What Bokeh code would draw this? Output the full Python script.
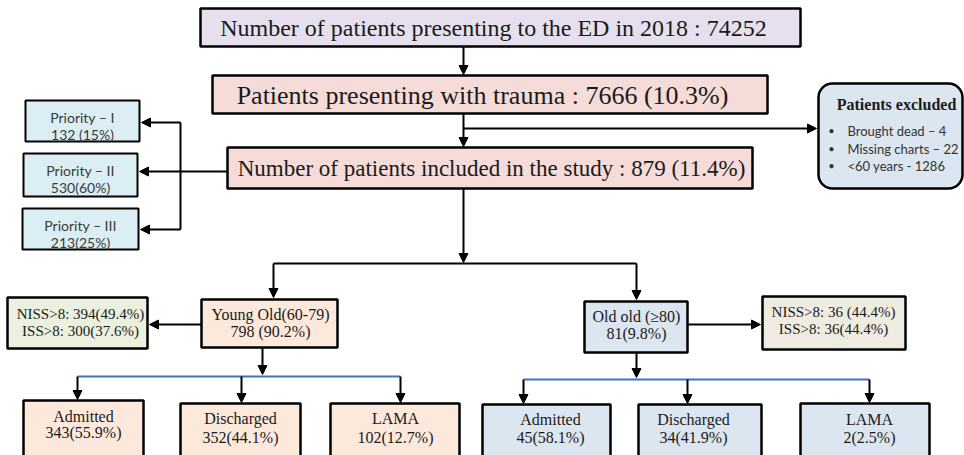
from bokeh.plotting import figure
from bokeh.models import ColumnDataSource, Arrow, NormalHead, BoxAnnotation, Range1d
from bokeh.core.properties import value
from bokeh.embed import file_html
from bokeh.resources import INLINE

# ---------------- data (labels / values) ----------------
top_text = "Number of patients presenting to the ED in 2018 : 74252"
trauma_text = "Patients presenting with trauma : 7666 (10.3%)"
included_text = "Number of patients included in the study : 879 (11.4%)"
priority_labels = ["Priority \u2013 I", "Priority \u2013 II", "Priority \u2013 III"]
priority_values = ["132 (15%)", "530(60%)", "213(25%)"]
excluded_title = "Patients excluded"
excluded_items = ["Brought dead \u2013 4", "Missing charts \u2013 22", "<60 years - 1286"]
group_labels = ["Young Old(60-79)", "Old old (\u226580)"]
group_values = ["798 (90.2%)", "81(9.8%)"]
niss_young = ["NISS>8: 394(49.4%)", "ISS>8: 300(37.6%)"]
niss_old = ["NISS>8: 36 (44.4%)", "ISS>8: 36(44.4%)"]
outcome_labels = ["Admitted", "Discharged", "LAMA"]
young_outcomes = ["343(55.9%)", "352(44.1%)", "102(12.7%)"]
old_outcomes = ["45(58.1%)", "34(41.9%)", "2(2.5%)"]

# ---------------- layout (pixel-like coordinates) ----------------
SERIF = "Liberation Serif"
SANS = "Lato"

p = figure(width=964, height=455, x_range=Range1d(0, 964), y_range=Range1d(455, 0),
           output_backend="svg", toolbar_location=None, min_border=0,
           x_axis_location=None, y_axis_location=None)
p.grid.visible = False
p.outline_line_color = None
p.background_fill_color = "white"


def box(l, r, t, b, fill, lw=2.5):
    p.quad(left=[l], right=[r], top=[t], bottom=[b], fill_color=fill,
           line_color="black", line_width=lw)


def txt(x, y, s, size, font=SERIF, color="#1a1a1a", align="center", style="normal"):
    p.text(x=[x], y=[y], text=[s], text_font=value(font), text_font_size=f"{size}px",
           text_align=align, text_baseline="middle", text_color=color, text_font_style=style)


# connector lines (no heads)
p.multi_line(xs=[[180, 180], [273, 636], [227, 180]], ys=[[122, 229], [263, 263], [171, 171]],
             line_color="black", line_width=2)
p.multi_line(xs=[[77, 400], [523, 869]], ys=[[376, 376], [379, 379]],
             line_color="#4472c4", line_width=2)

# arrows
arr = ColumnDataSource(dict(
    x0=[463, 463, 463, 180, 180, 180, 463, 273, 636, 201, 687, 262, 77, 241, 400, 636, 523, 687, 869],
    y0=[46, 113, 128, 122, 171, 229, 188, 263, 263, 324, 324, 347, 376, 376, 376, 352, 379, 379, 379],
    x1=[463, 463, 816, 141, 139, 140, 463, 273, 636, 149, 760, 262, 77, 241, 400, 636, 523, 687, 869],
    y1=[74, 146, 128, 122, 171, 229, 262, 297, 299, 324, 324, 374, 399, 402, 402, 377, 403, 403, 402],
))
p.add_layout(Arrow(x_start="x0", y_start="y0", x_end="x1", y_end="y1", source=arr,
                   line_color="black", line_width=2,
                   end=NormalHead(size=9, fill_color="black", line_color="black", line_width=1)))

# top boxes
box(200, 800, 8, 46, "#e6e0ee")
txt(493, 27, top_text, 24)
box(212, 767, 75, 113, "#f5dcd8")
txt(482, 95, trauma_text, 26)
box(227, 752, 147, 188, "#f5dcd8")
txt(491, 168, included_text, 23)

# priority boxes
pr_boxes = [(25, 139, 100, 141), (23, 137, 153, 196), (22, 138, 208, 249)]
pr_y = [(117, 134), (170, 187), (225, 242)]
for (l, r, t, b), (ya, yb), lab, val in zip(pr_boxes, pr_y, priority_labels, priority_values):
    box(l, r, t, b, "#dbeef4", lw=2)
    cx = (l + r) / 2
    txt(cx, ya, lab, 14, font=SANS, color="#3a3a3a")
    txt(cx, yb, val, 14, font=SANS, color="#3a3a3a")

# excluded box (rounded)
p.add_layout(BoxAnnotation(left=818, right=962, top=83, bottom=188, fill_color="#dce6f1",
                           fill_alpha=1, line_color="black", line_alpha=1, line_width=2.5,
                           border_radius=14, level="underlay"))
txt(896, 104, excluded_title, 16, style="bold")
for yy, item in zip([130, 148, 165], excluded_items):
    txt(831, yy, "\u2022", 11, font=SANS, color="#333333")
    txt(847, yy, item, 13, font=SANS, color="#333333", align="left")

# age group boxes
box(201, 337, 299, 347, "#fde9dc")
txt(270, 314, group_labels[0], 16)
txt(270, 331, group_values[0], 16)
box(584, 687, 301, 352, "#dce6f1")
txt(636, 316, group_labels[1], 16)
txt(636, 333, group_values[1], 16)

# NISS boxes
box(7, 147, 297, 348, "#ebf1de")
txt(80, 313, niss_young[0], 15)
txt(80, 330, niss_young[1], 15)
box(762, 905, 296, 349, "#eeece1")
txt(833, 311, niss_old[0], 15)
txt(833, 328, niss_old[1], 15)

# outcome boxes
yo_boxes = [(23, 143, 400), (180, 300, 403), (330, 459, 403)]
yo_cx = [83, 240, 395]
yo_y = [(416, 432), (418, 437), (418, 437)]
for (l, r, t), cx, (ya, yb), lab, val in zip(yo_boxes, yo_cx, yo_y, outcome_labels, young_outcomes):
    box(l, r, t, 470, "#fde9dc")
    txt(cx, ya, lab, 16)
    txt(cx, yb, val, 16)

oo_boxes = [(482, 610, 404), (638, 761, 404), (800, 929, 403)]
oo_cx = [550, 693, 869]
for (l, r, t), cx, lab, val in zip(oo_boxes, oo_cx, outcome_labels, old_outcomes):
    box(l, r, t, 470, "#dce6f1")
    txt(cx, 419, lab, 16)
    txt(cx, 437, val, 16)

open("out.html", "w").write(file_html(p, INLINE))
